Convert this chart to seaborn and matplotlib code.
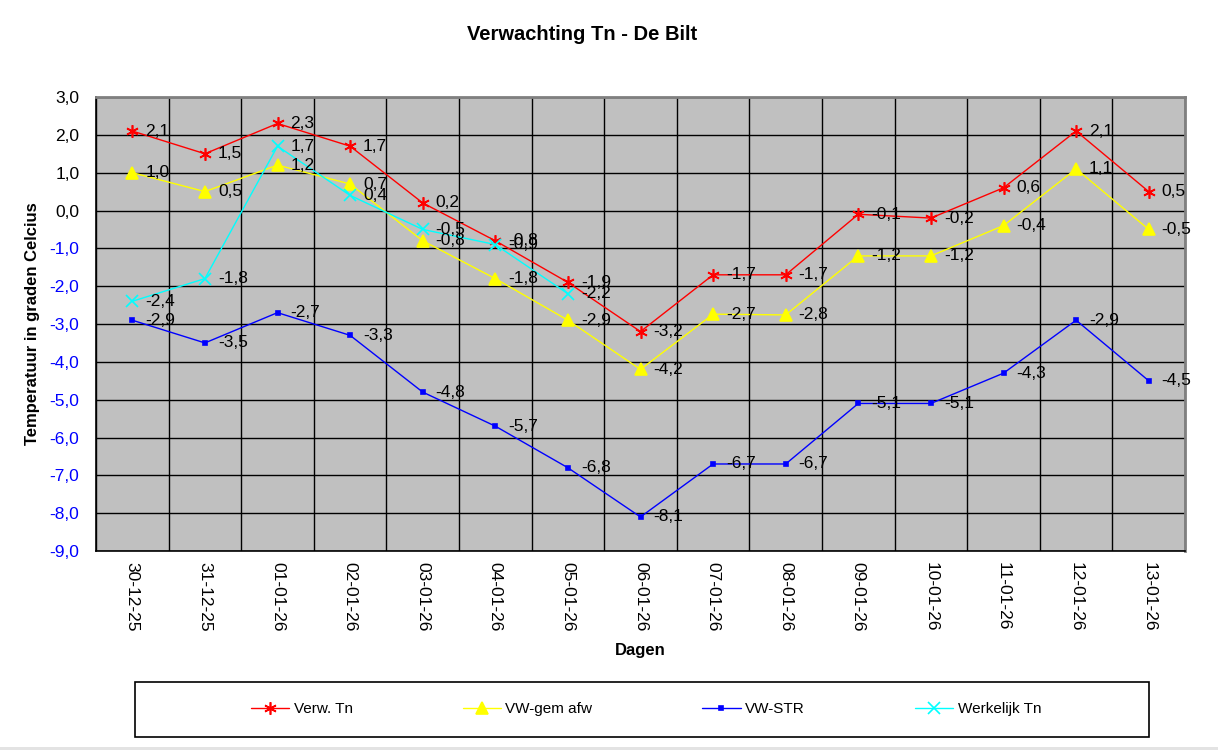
import matplotlib.pyplot as plt
import matplotlib.ticker as mticker
from matplotlib.patches import Rectangle
import numpy as np
import pandas as pd
import seaborn as sns

sns.set_theme(style="white")
plt.rcParams['font.family'] = ['Liberation Sans', 'DejaVu Sans']
plt.rcParams['text.color'] = 'black'
plt.rcParams['axes.labelcolor'] = 'black'
plt.rcParams['xtick.color'] = 'black'
plt.rcParams['ytick.color'] = 'black'

# ─── DATA ─────────────────────────────────────────────────────────────────
DAGEN = ["30-12-25", "31-12-25", "01-01-26", "02-01-26", "03-01-26",
         "04-01-26", "05-01-26", "06-01-26", "07-01-26", "08-01-26",
         "09-01-26", "10-01-26", "11-01-26", "12-01-26", "13-01-26"]
VERW_TN = [2.1, 1.5, 2.3, 1.7, 0.2, -0.8, -1.9, -3.2, -1.7, -1.7,
           -0.1, -0.2, 0.6, 2.1, 0.5]
VW_GEM = [1.0, 0.5, 1.2, 0.7, -0.8, -1.8, -2.9, -4.2, -2.74, -2.76,
          -1.2, -1.2, -0.4, 1.1, -0.5]
VW_STR = [-2.9, -3.5, -2.7, -3.3, -4.8, -5.7, -6.8, -8.1, -6.7, -6.7,
          -5.1, -5.1, -4.3, -2.9, -4.5]
WERKELIJK = [-2.4, -1.8, 1.7, 0.4, -0.5, -0.9, -2.2]

SERIES = [
    ("Verw. Tn", VERW_TN, "#FF0000", (6, 2, 0), 9),
    ("VW-gem afw", VW_GEM, "#FFFF00", "^", 8),
    ("VW-STR", VW_STR, "#0000FF", "s", 3),
    ("Werkelijk Tn", WERKELIJK, "#00FFFF", "x", 8),
]

def fmt(v):
    return f"{v:.1f}".replace(".", ",")

fig = plt.figure(figsize=(12.18, 7.5), dpi=100)
ax = fig.add_axes([96 / 1218, 199 / 750, 1089 / 1218, 454 / 750])
ax.set_facecolor("#C0C0C0")

for name, vals, color, marker, ms in SERIES:
    df = pd.DataFrame({"x": np.arange(len(vals)), "y": vals})
    sns.lineplot(data=df, x="x", y="y", ax=ax, color=color, lw=1,
                 marker=marker, markersize=ms, markeredgecolor=color,
                 markerfacecolor=color, markeredgewidth=1.2, zorder=3,
                 label=name)
    for xi, yi in zip(df["x"], df["y"]):
        ax.annotate(fmt(yi), (xi, yi), xytext=(13, 0),
                    textcoords="offset pixels", va="center", ha="left",
                    fontsize=12.5, color="black", zorder=4)

# axes and grid
ax.set_xlim(-0.5, len(DAGEN) - 0.5)
ax.set_ylim(-9, 3)
ax.yaxis.set_major_locator(mticker.MultipleLocator(1))
ax.yaxis.set_major_formatter(mticker.FuncFormatter(lambda v, p: fmt(v)))
fig.canvas.draw()
for lbl, v in zip(ax.get_yticklabels(), ax.get_yticks()):
    lbl.set_color("blue" if v < 0 else "black")
ax.set_xticks(np.arange(len(DAGEN)))
ax.set_xticklabels(DAGEN, rotation=270, fontsize=12.5)
ax.set_xticks(np.arange(len(DAGEN) + 1) - 0.5, minor=True)
ax.tick_params(axis="x", which="major", length=0, pad=8)
ax.tick_params(axis="x", which="minor", length=5, width=1, color="black",
               direction="out")
ax.tick_params(axis="y", length=6, width=1, color="black", direction="out",
               labelsize=12.5, pad=6)
ax.grid(True, axis="y", which="major", color="black", lw=1, zorder=1)
ax.grid(True, axis="x", which="minor", color="black", lw=1, zorder=1)
ax.set_axisbelow(True)
for side in ["left", "bottom"]:
    ax.spines[side].set_color("black")
    ax.spines[side].set_linewidth(1.2)
for side in ["top", "right"]:
    ax.spines[side].set_color("#808080")
    ax.spines[side].set_linewidth(2)

ax.set_xlabel("Dagen", fontsize=12, fontweight="bold", labelpad=8)
ax.set_ylabel("Temperatuur in graden Celcius", fontsize=12,
              fontweight="bold", labelpad=7)
fig.text(0.5 - 27 / 1218, 1 - 35 / 750, "Verwachting Tn - De Bilt",
         ha="center", va="center", fontsize=14.5, fontweight="bold")

# legend in a box below
h, l = ax.get_legend_handles_labels()
ax.get_legend().remove()
fig.patches.append(Rectangle((135 / 1218, 13 / 750), 1014 / 1218, 55 / 750,
                             transform=fig.transFigure, fill=False,
                             edgecolor="black", lw=1.2))
fig.patches.append(Rectangle((0, 0), 1, 3 / 750, transform=fig.transFigure,
                             facecolor="#E3E3E3", edgecolor="none"))
fig.legend(h, l, loc="center", bbox_to_anchor=(646 / 1218, 41 / 750),
           ncol=4, frameon=False, fontsize=11, handlelength=2.5,
           columnspacing=7.2, handletextpad=0.3)

plt.savefig("out.png", dpi=100)
